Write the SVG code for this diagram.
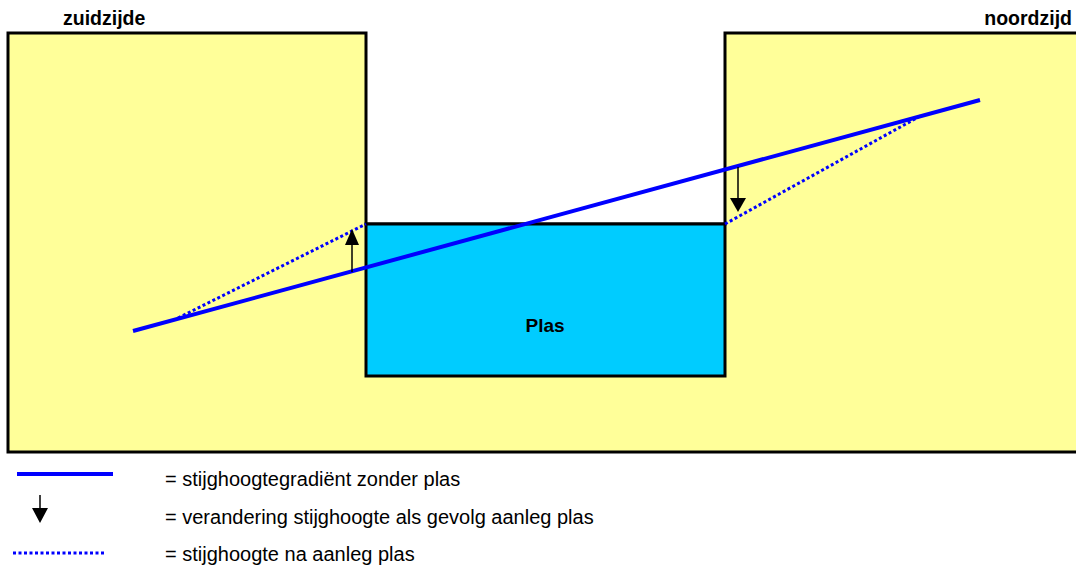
<svg xmlns="http://www.w3.org/2000/svg" width="1076" height="567" viewBox="0 0 1076 567">
<style>
.lbl{font-family:"Liberation Sans",Arial,sans-serif;font-size:19.5px;fill:#000}
.b{font-weight:bold}
.leg{font-size:20px}
.solid{stroke:#0000FF;stroke-width:4;fill:none}
.dot{stroke:#0000FF;stroke-width:3;fill:none;stroke-dasharray:3 2.5}
.arr{stroke:#000;stroke-width:1.5;fill:none}
</style>
<rect width="1076" height="567" fill="#fff"/>
<g id="grond">
<path d="M8,33 H366 V224 H725 V33 H1080 V452 H8 Z" fill="#FFFF99" stroke="#000" stroke-width="3"/>
</g>
<g id="plas">
<rect x="366" y="224" width="359" height="152" fill="#00CCFF" stroke="#000" stroke-width="3"/>
<text class="lbl b" x="545" y="332" text-anchor="middle" style="font-size:19px">Plas</text>
</g>
<g id="zuidzijde"><text class="lbl b" x="63" y="25">zuidzijde</text></g>
<g id="noordzijd"><text class="lbl b" x="1072" y="25" text-anchor="end">noordzijd</text></g>
<g id="connectors">
<line class="solid" x1="133" y1="331" x2="980" y2="100"/>
<polyline class="dot" points="178,318 366,224"/>
<polyline class="dot" points="725,224 922,115"/>
<path d="M352,272 V245" class="arr"/>
<path d="M345,245 L359,245 L352,229 Z" fill="#000"/>
<path d="M738,167 V198" class="arr"/>
<path d="M730,198 L746,198 L738,212 Z" fill="#000"/>
</g>
<g id="legenda">
<line class="solid" x1="17" y1="474" x2="113" y2="474"/>
<text class="lbl leg" x="165" y="486">= stijghoogtegradiënt zonder plas</text>
<path d="M40,495 V508" class="arr"/>
<path d="M32,508 L48,508 L40,523 Z" fill="#000"/>
<text class="lbl leg" x="165" y="524">= verandering stijghoogte als gevolg aanleg plas</text>
<line class="dot" x1="13" y1="553" x2="105" y2="553"/>
<text class="lbl leg" x="165" y="561">= stijghoogte na aanleg plas</text>
</g>
</svg>
